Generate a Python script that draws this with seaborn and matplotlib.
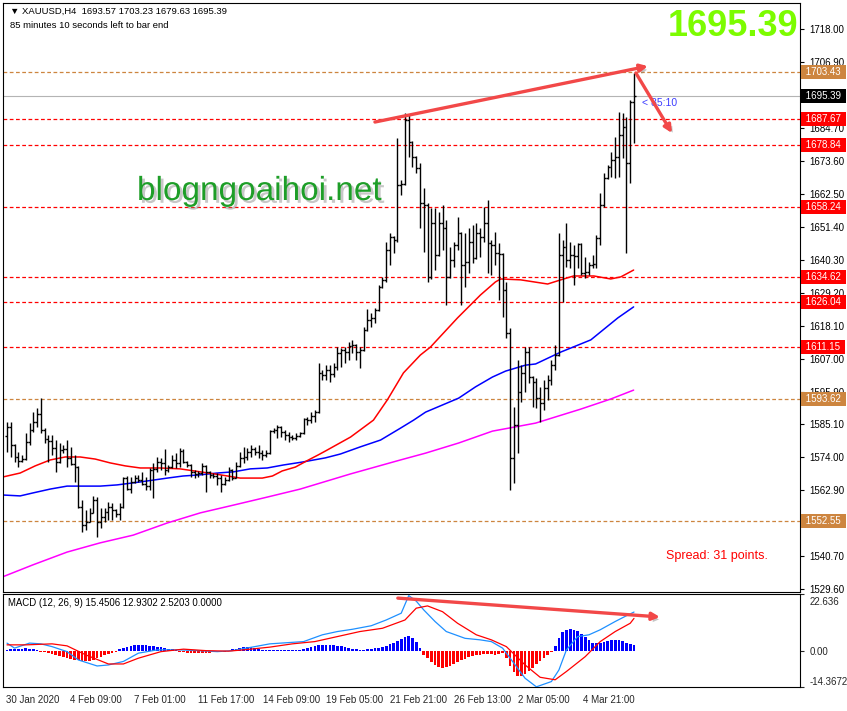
import numpy as np
import pandas as pd
import seaborn as sns
import matplotlib.pyplot as plt
import matplotlib.transforms as mtransforms
import matplotlib.patheffects as pe

# ---- XAUUSD H4 bars (open of each bar = previous close) ----
first_open = 1581.0
high = [1585.8, 1585.8, 1578.5, 1575.7, 1574.7, 1582.1, 1585.4, 1589.1, 1590.5, 1593.8,
        1583.7, 1581.4, 1581.4, 1579.7, 1578.7, 1578.0, 1579.7, 1577.4, 1574.7, 1570.9,
        1559.5, 1556.2, 1556.8, 1560.9, 1560.5, 1556.8, 1556.8, 1558.9, 1558.5, 1556.5,
        1558.5, 1567.3, 1567.5, 1567.3, 1568.0, 1568.0, 1569.0, 1567.3, 1570.3, 1572.0,
        1574.0, 1573.7, 1576.7, 1571.3, 1574.7, 1575.3, 1577.0, 1576.7, 1572.5, 1571.5,
        1569.6, 1569.3, 1572.0, 1571.3, 1569.3, 1568.6, 1568.6, 1568.0, 1567.3, 1570.6,
        1570.0, 1572.3, 1575.7, 1577.4, 1577.0, 1578.0, 1577.4, 1578.0, 1576.3, 1576.3,
        1583.1, 1583.7, 1584.7, 1584.5, 1583.1, 1582.4, 1581.4, 1582.1, 1582.4, 1587.1,
        1587.4, 1589.1, 1589.8, 1605.6, 1603.3, 1604.9, 1604.9, 1605.6, 1611.0, 1610.6,
        1611.0, 1612.7, 1613.4, 1612.0, 1611.0, 1617.7, 1623.8, 1622.4, 1624.1, 1631.9,
        1634.6, 1646.3, 1649.4, 1648.5, 1681.3, 1667.2, 1689.7, 1689.1, 1680.3, 1675.2,
        1672.9, 1664.5, 1659.5, 1657.8, 1657.8, 1656.5, 1658.8, 1653.8, 1644.6, 1646.3,
        1654.8, 1649.7, 1649.4, 1651.1, 1652.1, 1652.8, 1651.1, 1658.1, 1660.5, 1647.0,
        1649.7, 1646.0, 1642.5, 1632.9, 1617.4, 1590.8, 1606.6, 1604.9, 1611.0, 1611.0,
        1601.3, 1600.6, 1597.6, 1599.9, 1601.6, 1606.6, 1611.7, 1649.4, 1647.0, 1652.8,
        1646.3, 1645.3, 1646.0, 1646.0, 1641.3, 1639.6, 1642.0, 1648.7, 1662.8, 1669.6,
        1672.2, 1676.6, 1681.7, 1690.1, 1689.7, 1688.4, 1694.1, 1703.23]
low = [1575.7, 1574.0, 1572.3, 1570.6, 1572.3, 1573.0, 1578.0, 1582.5, 1584.1, 1582.1,
       1578.7, 1572.3, 1574.7, 1569.0, 1572.0, 1575.3, 1570.6, 1571.3, 1565.6, 1556.8,
       1548.8, 1549.4, 1552.0, 1555.0, 1547.1, 1550.1, 1552.1, 1552.8, 1552.8, 1553.8,
       1552.8, 1557.0, 1562.9, 1562.0, 1565.2, 1565.6, 1564.6, 1563.0, 1562.9, 1560.2,
       1569.0, 1569.6, 1567.9, 1569.0, 1570.3, 1570.3, 1570.6, 1572.0, 1570.6, 1567.3,
       1567.0, 1567.3, 1568.0, 1562.2, 1567.0, 1567.0, 1564.6, 1562.2, 1564.6, 1566.0,
       1566.3, 1566.8, 1570.6, 1572.0, 1573.0, 1574.0, 1574.7, 1573.7, 1573.0, 1574.0,
       1575.0, 1582.1, 1580.4, 1580.7, 1579.7, 1579.0, 1579.7, 1579.7, 1580.7, 1581.8,
       1584.7, 1585.4, 1585.8, 1588.8, 1599.9, 1599.9, 1599.2, 1600.9, 1603.3, 1604.3,
       1605.6, 1606.6, 1609.0, 1606.6, 1604.0, 1609.8, 1616.3, 1617.7, 1619.1, 1623.2,
       1630.9, 1632.9, 1638.6, 1642.6, 1646.5, 1662.2, 1665.5, 1674.9, 1671.6, 1669.6,
       1651.0, 1642.9, 1632.9, 1634.0, 1637.0, 1641.5, 1643.6, 1625.1, 1634.3, 1637.9,
       1643.6, 1625.1, 1631.2, 1636.0, 1639.3, 1640.5, 1641.3, 1646.3, 1636.0, 1635.2,
       1638.6, 1626.8, 1621.1, 1614.0, 1562.9, 1565.2, 1575.3, 1592.5, 1595.9, 1598.9,
       1590.8, 1590.5, 1585.8, 1589.8, 1593.2, 1598.2, 1603.3, 1608.0, 1626.1, 1637.9,
       1637.6, 1631.9, 1637.6, 1635.2, 1634.2, 1635.2, 1637.6, 1637.6, 1645.3, 1658.1,
       1667.5, 1668.2, 1667.9, 1668.2, 1674.6, 1642.6, 1666.2, 1679.63]
close = [1584.1, 1578.0, 1574.0, 1572.6, 1573.3, 1579.0, 1583.1, 1585.8, 1588.5, 1583.1,
         1580.0, 1579.4, 1577.0, 1572.3, 1576.3, 1576.7, 1573.7, 1571.5, 1570.6, 1557.2,
         1551.1, 1552.1, 1555.2, 1559.5, 1552.1, 1553.8, 1555.5, 1557.2, 1556.2, 1554.8,
         1557.2, 1567.0, 1563.2, 1565.6, 1567.0, 1566.3, 1565.0, 1564.2, 1569.6, 1569.9,
         1572.3, 1572.0, 1569.6, 1570.6, 1573.0, 1572.0, 1576.0, 1572.3, 1571.3, 1569.0,
         1568.3, 1568.6, 1570.9, 1569.0, 1568.0, 1567.6, 1567.0, 1564.9, 1566.3, 1569.6,
         1567.0, 1570.9, 1573.7, 1574.0, 1575.7, 1576.7, 1575.7, 1575.3, 1574.7, 1575.3,
         1582.8, 1583.1, 1584.1, 1582.4, 1581.4, 1580.7, 1580.4, 1581.1, 1582.1, 1586.8,
         1586.4, 1587.8, 1589.1, 1602.3, 1601.6, 1603.3, 1601.9, 1604.3, 1609.0, 1610.0,
         1609.3, 1611.3, 1611.7, 1609.3, 1610.0, 1616.7, 1620.1, 1620.8, 1623.5, 1631.2,
         1633.5, 1643.6, 1648.0, 1647.0, 1665.5, 1666.0, 1687.4, 1680.0, 1674.9, 1671.2,
         1659.4, 1658.8, 1634.6, 1652.8, 1642.0, 1652.8, 1651.1, 1634.6, 1640.3, 1645.3,
         1649.4, 1638.6, 1639.6, 1646.3, 1640.9, 1649.4, 1648.0, 1652.8, 1645.9, 1645.3,
         1642.6, 1642.3, 1630.2, 1615.7, 1573.7, 1584.8, 1595.9, 1602.3, 1609.3, 1600.9,
         1599.2, 1593.8, 1592.0, 1597.2, 1599.9, 1604.9, 1608.3, 1642.0, 1644.6, 1640.3,
         1642.0, 1641.5, 1645.5, 1635.9, 1636.3, 1638.6, 1639.0, 1647.7, 1658.8, 1667.9,
         1671.6, 1673.9, 1675.0, 1682.3, 1685.0, 1672.9, 1693.57, 1695.39]

# moving averages
ma_red_idx = [-1, 3.5, 7.5, 11.5, 15.5, 19.5, 23.5, 27.5, 31.5, 35.5, 40.8, 46.1, 51.5, 56.8,
              62.1, 68, 70.7, 73.3, 76.8, 80.3, 82.9, 84.8, 91.5, 97.6, 101.3, 105.6, 110.1,
              112.8, 120, 126.1, 130.1, 131.5, 136.8, 144, 147.5, 150.9, 156.3, 160.8, 163.5, 166.9]
ma_red = [1567.3, 1568.6, 1571.0, 1573.0, 1574.0, 1574.0, 1573.3, 1572.0, 1571.0, 1570.3,
          1570.3, 1570.0, 1569.0, 1568.0, 1566.9, 1566.9, 1567.6, 1569.3, 1570.6, 1573.0,
          1574.7, 1576.0, 1580.7, 1586.4, 1593.2, 1602.3, 1608.3, 1611.0, 1620.8, 1628.5,
          1632.9, 1633.9, 1633.6, 1632.2, 1633.6, 1634.9, 1634.9, 1633.9, 1634.6, 1636.9]
ma_blue_idx = [-1, 3.5, 6.9, 11.5, 16, 24.8, 29.3, 35.5, 42.7, 46.9, 51.5, 56, 60.3, 64.8, 69.3,
               73.6, 78.7, 84.8, 88.8, 94.1, 99.5, 104.8, 108.3, 111.5, 120.3, 124.8, 129.3,
               132.8, 138.1, 140.8, 147.5, 155.5, 162.7, 166.9]
ma_blue = [1561.2, 1560.9, 1561.9, 1563.2, 1564.2, 1564.2, 1564.6, 1565.6, 1566.9, 1567.6,
           1568.0, 1568.6, 1569.0, 1570.0, 1570.3, 1571.3, 1572.3, 1573.7, 1575.0, 1577.4,
           1579.7, 1583.7, 1586.4, 1589.1, 1593.8, 1597.6, 1600.9, 1602.9, 1604.9, 1605.3,
           1609.3, 1613.4, 1620.8, 1624.5]
ma_mag_idx = [-1.9, 6.9, 16, 24.8, 33.6, 42.7, 51.5, 60.3, 69.3, 78.1, 91.5, 104.8, 111.5,
              120.3, 129.3, 133.6, 140.8, 152.8, 160.8, 166.9]
ma_mag = [1533.3, 1537.7, 1542.0, 1545.1, 1547.7, 1551.8, 1555.2, 1557.8, 1560.5, 1563.2,
          1568.3, 1573.0, 1575.3, 1578.7, 1582.7, 1583.7, 1585.4, 1590.1, 1593.5, 1596.5]

# horizontal levels
red_levels = [1687.67, 1678.84, 1658.24, 1634.62, 1626.04, 1611.15]
orange_levels = [1703.43, 1593.62, 1552.55]
bid = 1695.39

# price scale labels that are not hidden behind a level box
price_ticks = [1718.00, 1706.90, 1684.70, 1673.60, 1662.50, 1651.40, 1640.30, 1629.20,
               1618.10, 1607.00, 1595.90, 1585.10, 1574.00, 1562.90, 1540.70, 1529.60]

# MACD (12, 26, 9)
macd_idx = [0, 2, 6, 9, 12, 16, 19, 24, 27, 31, 35, 40, 46, 51, 56, 60, 66, 70, 75, 79, 84, 88,
            92, 97, 101, 105, 107, 109, 111, 114, 117, 122, 126, 129, 132, 135, 138, 141, 145,
            147, 149, 152, 155, 158, 162, 165, 167]
macd_main = [3.1, 1.1, 3.1, 2.8, 1.7, -0.3, -3.6, -6.0, -5.6, -4.2, -0.9, 0.4, 0.4, 0.1, -0.3,
             0.1, 1.7, 2.8, 3.3, 3.7, 6.4, 7.7, 8.6, 10.0, 12.3, 15.0, 22.0, 19.8, 16.3, 11.7,
             7.7, 5.0, 4.4, 3.7, 1.1, -4.9, -10.9, -14.3, -12.2, -7.6, 0.4, 5.7, 6.4, 8.4,
             11.7, 14.0, 15.45]
signal_idx = [0, 5, 12, 16, 21, 27, 31, 35, 41, 47, 53, 59, 63, 70, 76, 82, 88, 94, 100, 106,
              109, 112, 116, 120, 125, 129, 133, 138, 142, 146, 149, 154, 158, 162, 166, 167]
macd_signal = [2.4, 2.4, 2.8, 2.0, -1.6, -5.2, -5.2, -2.9, -0.3, 0.7, 0.1, -0.1, 0.4, 1.5, 2.8,
               3.7, 5.7, 7.7, 9.0, 12.3, 17.0, 17.9, 15.6, 11.0, 6.4, 4.4, 1.7, -5.6, -10.5,
               -11.5, -8.2, -2.3, 3.7, 7.7, 11.0, 12.93]
macd_hist = [0.5, 0.8, 0.8, 0.6, 0.8, 1.0, 0.8, 0.6, 0.4,
             -0.3, -0.6, -1.0, -1.3, -1.7, -2.0, -2.4,
             -2.8, -3.2, -3.6, -3.8, -4.0, -4.1, -4.0, -3.6, -3.0, -2.4, -1.7, -1.2, -0.8, -0.4,
             0.6, 1.2, 1.6, 2.0, 2.2, 2.3, 2.3, 2.2, 2.0, 1.8, 1.6, 1.4, 1.1, 0.9, 0.6, 0.4,
             -0.3, -0.5, -0.7, -0.8, -0.9, -0.9, -0.8, -0.8, -0.7, -0.6, -0.5, -0.4, -0.3, -0.2,
             0.6, 0.9, 1.2, 1.4, 1.5, 1.4, 1.2, 0.9,
             0.5, 0.4, 0.4, 0.3, 0.3, 0.4, 0.4, 0.3, 0.3, 0.4, 0.5, 0.6, 1.0, 1.6,
             2.0, 2.3, 2.5, 2.5, 2.4, 2.3, 2.1, 1.8, 1.4, 1.0, 0.8,
             0.6, 0.5, 0.5, 0.6, 0.8, 1.0, 1.2, 1.5,
             2.0, 2.6, 3.2, 3.8, 4.6, 5.4, 6.0, 5.0, 3.5, 1.2,
             -1.5, -3.0, -4.5, -5.8, -6.6, -6.8, -6.5, -6.0, -5.2, -4.5, -3.8, -3.2, -2.6, -2.0,
             -1.6, -1.5, -1.4, -1.3, -1.4, -1.6, -1.2,
             -0.8, -3.0, -6.0, -8.5, -9.8, -10.0, -9.2, -8.0, -6.8, -5.4, -4.2, -3.0, -1.8, -0.5,
             2.0, 5.0, 7.5, 8.5, 8.8, 8.5, 7.8, 6.8, 5.5,
             4.2, 3.2, 3.0, 3.2, 3.6, 4.0, 4.3, 4.4, 4.2, 3.8, 3.2, 2.8, 2.52]
macd_lo, macd_hi = -14.3672, 22.636

time_labels = ["30 Jan 2020", "4 Feb 09:00", "7 Feb 01:00", "11 Feb 17:00", "14 Feb 09:00",
               "19 Feb 05:00", "21 Feb 21:00", "26 Feb 13:00", "2 Mar 05:00", "4 Mar 21:00"]
time_pos = [-0.8, 16.2, 33.4, 50.4, 67.7, 84.5, 101.6, 118.6, 135.6, 153.0]

# drawn trend arrows (bar index, value)
price_arrows = [((98.0, 1686.7), (170.7, 1705.5)), ((167.5, 1703.2), (177.1, 1683.0))]
macd_arrow = ((104.1, 21.0), (173.9, 13.5))

sns.set_style("white")
plt.rcParams['font.family'] = ['Liberation Sans', 'DejaVu Sans']
plt.rcParams['font.size'] = 7

W, H = 847, 711
fig = plt.figure(figsize=(W / 100, H / 100), dpi=100)
fig.patch.set_facecolor('white')

def frac(l, t, r, b):
    return [l / W, 1 - b / H, (r - l) / W, (b - t) / H]

ax = fig.add_axes(frac(3, 3, 800, 592))
ax2 = fig.add_axes(frac(3, 594, 800, 687))

n = len(close)
idx = np.arange(n)
opens = [first_open] + close[:-1]
bars = pd.DataFrame({'i': idx, 'o': opens, 'h': high, 'l': low, 'c': close})

step = (634 - 7) / (n - 1)
xl = ((3 - 7) / step, (800 - 7) / step)
for a in (ax, ax2):
    a.set_xlim(*xl)
    a.set_facecolor('white')
    for s in a.spines.values():
        s.set_color('black')
        s.set_linewidth(0.8)
ax.set_ylim(1727.76 - 0.33647 * 592, 1727.76 - 0.33647 * 3)
ax2.set_ylim(macd_lo, macd_hi)

# levels
for lv in red_levels:
    ax.axhline(lv, color='#ff0000', lw=0.9, ls=(0, (3, 2)), zorder=1)
for lv in orange_levels:
    ax.axhline(lv, color='#cd853f', lw=0.9, ls=(0, (3, 2)), zorder=1)
ax.axhline(bid, color='#b4b4b4', lw=0.8, zorder=1)

# moving averages
sns.lineplot(x=ma_mag_idx, y=ma_mag, color='#ff00ff', lw=1.1, ax=ax, zorder=2)
sns.lineplot(x=ma_blue_idx, y=ma_blue, color='#0000ff', lw=1.1, ax=ax, zorder=2)
sns.lineplot(x=ma_red_idx, y=ma_red, color='#ff0000', lw=1.1, ax=ax, zorder=2)

# OHLC bars
ax.vlines(bars['i'], bars['l'], bars['h'], color='black', lw=1.0, zorder=3)
ax.hlines(bars['o'], bars['i'] - 0.5, bars['i'], color='black', lw=1.0, zorder=3)
ax.hlines(bars['c'], bars['i'], bars['i'] + 0.5, color='black', lw=1.0, zorder=3)

# price axis on the right
ax.yaxis.tick_right()
ax.set_yticks(price_ticks, [f"{v:.2f}" for v in price_ticks])
ax.tick_params(axis='y', direction='out', length=3, width=0.8, pad=4, labelsize=7,
               colors='black')
ax.set_xticks([])
ax.set_xlabel('')
ax.set_ylabel('')

ytrans = mtransforms.blended_transform_factory(ax.transAxes, ax.transData)
box_labels = [(lv, '#ff0000') for lv in red_levels] + \
             [(lv, '#cd853f') for lv in orange_levels] + [(bid, 'black')]
for lv, col in box_labels:
    ax.text(1.004, lv, f" {lv:.2f} ", transform=ytrans, color='white', fontsize=7,
            va='center', ha='left', zorder=10,
            bbox=dict(boxstyle='square,pad=0.2', fc=col, ec='none'))

# MACD panel
hist_colors = ['#0000ff' if v > 0 else '#ff0000' for v in macd_hist]
ax2.bar(idx, macd_hist, width=0.72, color=hist_colors, linewidth=0, zorder=2)
sns.lineplot(x=macd_idx, y=macd_main, color='#1e90ff', lw=0.9, ax=ax2, zorder=3)
sns.lineplot(x=signal_idx, y=macd_signal, color='#ff0000', lw=0.9, ax=ax2, zorder=3)
ax2.yaxis.tick_right()
ax2.set_yticks([macd_hi, 0.0, macd_lo], ["22.636", "0.00", "-14.3672"])
ax2.tick_params(axis='y', direction='out', length=3, width=0.8, pad=4, labelsize=7)
tl = ax2.get_yticklabels()
tl[0].set_va('top')
tl[0].set_transform(tl[0].get_transform() +
                    mtransforms.ScaledTranslation(0, -3 / 100, fig.dpi_scale_trans))
tl[2].set_va('bottom')
ax2.set_xticks(time_pos, time_labels)
ax2.tick_params(axis='x', direction='out', length=3, width=0.8, pad=3, labelsize=7)
off = mtransforms.ScaledTranslation(2 / 100, 0, fig.dpi_scale_trans)
for lab in ax2.get_xticklabels():
    lab.set_ha('left')
    lab.set_transform(lab.get_transform() + off)
ax2.set_xlabel('')
ax2.set_ylabel('')

# arrows
shadow = [pe.withSimplePatchShadow(offset=(2, -2), shadow_rgbFace='#808080', alpha=0.45)]
for (x0, y0), (x1, y1) in price_arrows:
    an = ax.annotate('', xy=(x1, y1), xytext=(x0, y0), annotation_clip=False,
                     arrowprops=dict(arrowstyle='-|>', color='#f24848', lw=2.4,
                                     mutation_scale=11, shrinkA=0, shrinkB=0), zorder=8)
    an.arrow_patch.set_path_effects(shadow)
(x0, y0), (x1, y1) = macd_arrow
an = ax2.annotate('', xy=(x1, y1), xytext=(x0, y0), annotation_clip=False,
                  arrowprops=dict(arrowstyle='-|>', color='#f24848', lw=2.4,
                                  mutation_scale=11, shrinkA=0, shrinkB=0), zorder=8)
an.arrow_patch.set_path_effects(shadow)

# texts
ax.annotate("< 85:10", xy=(idx[-1], close[-1]), xytext=(6, -5), textcoords='offset points',
            color='#3c3cff', fontsize=7.5, va='center', ha='left', zorder=7)
fig.text(10 / W, 1 - 11 / H, "\u25bc XAUUSD,H4  1693.57 1703.23 1679.63 1695.39",
         fontsize=6.8, va='center', ha='left', color='black')
fig.text(10 / W, 1 - 25 / H, "85 minutes 10 seconds left to bar end",
         fontsize=6.8, va='center', ha='left', color='black')
fig.text(798 / W, 1 - 27 / H, "1695.39", fontsize=26, fontweight='bold', color='#7cfc00',
         va='center', ha='right')
fig.text(137 / W, 1 - 200 / H, "blogngoaihoi.net", fontsize=24, color='#1e9e28',
         va='baseline', ha='left',
         path_effects=[pe.withSimplePatchShadow(offset=(2, -2), shadow_rgbFace='#909090',
                                                alpha=0.5)])
fig.text(666 / W, 1 - 556 / H, "Spread: 31 points.", fontsize=9, color='#ff0000',
         va='center', ha='left')
fig.text(8 / W, 1 - 603 / H, "MACD (12, 26, 9) 15.4506 12.9302 2.5203 0.0000",
         fontsize=6.9, va='center', ha='left', color='black')

fig.savefig('out.png', dpi=100, facecolor='white')
